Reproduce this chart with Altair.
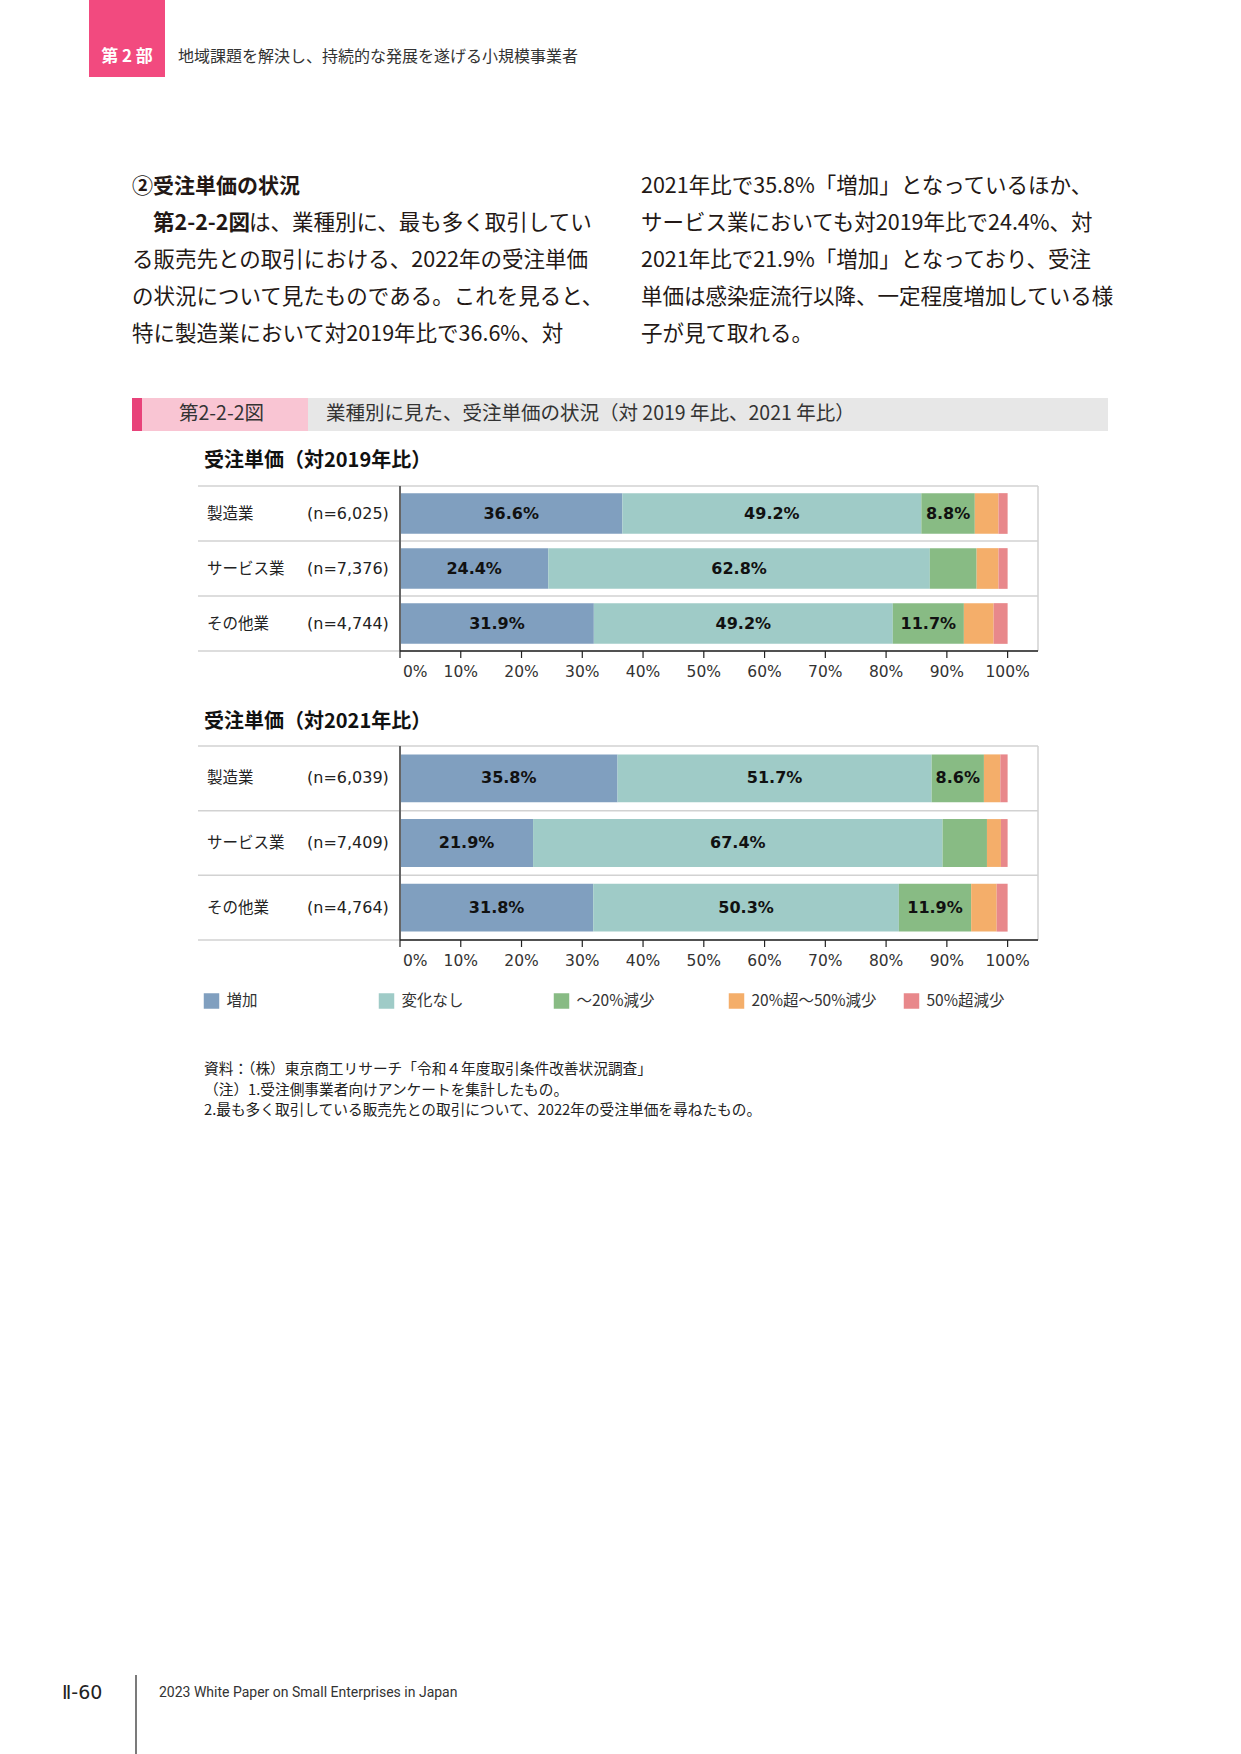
import altair as alt
import pandas as pd

JP = "Noto Sans CJK JP"
LAT = "DejaVu Sans"
INK = "#231815"

# ---- data -------------------------------------------------------------
industries = ["製造業", "サービス業", "その他業"]
n_2019 = ["(n=6,025)", "(n=7,376)", "(n=4,744)"]
n_2021 = ["(n=6,039)", "(n=7,409)", "(n=4,764)"]
categories = ["増加", "変化なし", "～20%減少", "20%超～50%減少", "50%超減少"]
palette = ["#809fbf", "#9fcbc7", "#88bb84", "#f4ae6a", "#e8888b"]

# shares (%) by industry, vs 2019
increase_2019 = [36.6, 24.4, 31.9]
nochange_2019 = [49.2, 62.8, 49.2]
down20_2019 = [8.8, 7.7, 11.7]
down50_2019 = [3.9, 3.6, 4.9]
over50_2019 = [1.5, 1.5, 2.3]

# shares (%) by industry, vs 2021
increase_2021 = [35.8, 21.9, 31.8]
nochange_2021 = [51.7, 67.4, 50.3]
down20_2021 = [8.6, 7.3, 11.9]
down50_2021 = [2.7, 2.3, 4.2]
over50_2021 = [1.2, 1.1, 1.8]

ticks = [0, 10, 20, 30, 40, 50, 60, 70, 80, 90, 100]


def shares_table(cols, n_labels):
    rows = []
    for i, ind in enumerate(industries):
        start = 0.0
        for cat, col in zip(categories, cols):
            v = col[i]
            rows.append(dict(industry=ind, n=n_labels[i], category=cat, value=v,
                             start=start, end=start + v, mid=start + v / 2,
                             label=f"{v:.1f}%"))
            start += v
    return pd.DataFrame(rows)


t2019 = shares_table([increase_2019, nochange_2019, down20_2019, down50_2019, over50_2019], n_2019)
t2021 = shares_table([increase_2021, nochange_2021, down20_2021, down50_2021, over50_2021], n_2021)

XS = alt.Scale(domain=[0, 105], range=[400, 1038], nice=False, zero=False)
COLOR = alt.Scale(domain=categories, range=palette)

ONE = pd.DataFrame({"k": [0]})


def text_at(s, x, y, size, weight="normal", color=INK, font=JP, align="left"):
    return alt.Chart(pd.DataFrame({"s": [s]})).mark_text(
        align=align, baseline="middle", fontSize=size, fontWeight=weight,
        color=color, font=font
    ).encode(x=alt.value(x), y=alt.value(y), text="s:N")


def box(x0, x1, y0, y1, color):
    return alt.Chart(ONE).mark_rect(color=color).encode(
        x=alt.value(x0), x2=alt.value(x1), y=alt.value(y0), y2=alt.value(y1))


def panel(table, n_labels, top, bottom):
    band = alt.Scale(domain=industries, range=[top, bottom],
                     paddingInner=0.26, paddingOuter=0.13)
    rows_y = alt.Scale(domain=[0, 3], range=[top, bottom], nice=False, zero=False)
    y = alt.Y("industry:N", scale=band, axis=None)
    base = alt.Chart(table)

    seps = alt.Chart(pd.DataFrame({"b": [0, 1, 2, 3]})).mark_rule(
        color="#d2d2d2", strokeWidth=1.5
    ).encode(y=alt.Y("b:Q", scale=rows_y, axis=None),
             x=alt.value(198), x2=alt.value(1038))

    right = alt.Chart(pd.DataFrame({"v": [105]})).mark_rule(
        color="#d2d2d2", strokeWidth=1.5
    ).encode(x=alt.X("v:Q", scale=XS, axis=None), y=alt.value(top), y2=alt.value(bottom))

    bars = base.mark_bar().encode(
        x=alt.X("start:Q", scale=XS, axis=None), x2="end:Q", y=y,
        color=alt.Color("category:N", scale=COLOR, legend=None))

    vals = base.transform_filter("datum.value >= 8").mark_text(
        fontSize=16, fontWeight="bold", font=LAT, color="#111111", baseline="middle"
    ).encode(x=alt.X("mid:Q", scale=XS, axis=None), y=y, text="label:N")

    names_df = pd.DataFrame({"industry": industries, "n": n_labels})
    names = alt.Chart(names_df).mark_text(
        align="left", baseline="middle", fontSize=15.5, font=JP, color="#222222"
    ).encode(x=alt.value(207), y=y, text="industry:N")
    counts = alt.Chart(names_df).mark_text(
        align="left", baseline="middle", fontSize=16, font=LAT, color="#222222"
    ).encode(x=alt.value(307), y=y, text="n:N")

    left_axis = alt.Chart(pd.DataFrame({"v": [0]})).mark_rule(
        color="#666666", strokeWidth=2
    ).encode(x=alt.X("v:Q", scale=XS, axis=None), y=alt.value(top), y2=alt.value(bottom))

    base_axis = alt.Chart(pd.DataFrame({"a": [0], "b": [105]})).mark_rule(
        color="#222222", strokeWidth=1.5
    ).encode(x=alt.X("a:Q", scale=XS, axis=None), x2="b:Q", y=alt.value(bottom))

    tick_df = pd.DataFrame({"t": ticks})
    tick_marks = alt.Chart(tick_df).mark_rule(color="#222222", strokeWidth=1.2).encode(
        x=alt.X("t:Q", scale=XS, axis=None), y=alt.value(bottom), y2=alt.value(bottom + 7))

    tick_first = alt.Chart(tick_df).transform_filter("datum.t == 0").transform_calculate(
        lab="datum.t + '%'"
    ).mark_text(align="left", dx=3, baseline="middle", fontSize=15.5, font=LAT, color="#333333").encode(
        x=alt.X("t:Q", scale=XS, axis=None), y=alt.value(bottom + 21), text="lab:N")
    tick_rest = alt.Chart(tick_df).transform_filter("datum.t > 0").transform_calculate(
        lab="datum.t + '%'"
    ).mark_text(align="center", baseline="middle", fontSize=15.5, font=LAT, color="#333333").encode(
        x=alt.X("t:Q", scale=XS, axis=None), y=alt.value(bottom + 21), text="lab:N")

    return [seps, right, bars, vals, names, counts, left_axis, base_axis,
            tick_marks, tick_first, tick_rest]


layers = []

# ---- running header ---------------------------------------------------
layers.append(box(89, 165, 0, 77, "#f24a7f"))
layers.append(text_at("第 2 部", 127, 57, 17, weight="bold", color="#ffffff", align="center"))
layers.append(text_at("地域課題を解決し、持続的な発展を遂げる小規模事業者", 178, 57, 16, color="#333333"))

# ---- body text ----------------------------------------------------------
LH = 37
BODY = 21.5
layers.append(text_at("②受注単価の状況", 132, 187, 21, weight="bold"))
layers.append(text_at("第2-2-2図", 153, 187 + LH, BODY, weight="bold"))
layers.append(text_at("は、業種別に、最も多く取引してい", 249, 187 + LH, BODY))
left_lines = [
    "る販売先との取引における、2022年の受注単価",
    "の状況について見たものである。これを見ると、",
    "特に製造業において対2019年比で36.6%、対",
]
for i, s in enumerate(left_lines):
    layers.append(text_at(s, 132, 187 + LH * (i + 2), BODY))
right_lines = [
    "2021年比で35.8%「増加」となっているほか、",
    "サービス業においても対2019年比で24.4%、対",
    "2021年比で21.9%「増加」となっており、受注",
    "単価は感染症流行以降、一定程度増加している様",
    "子が見て取れる。",
]
for i, s in enumerate(right_lines):
    layers.append(text_at(s, 641, 187 + LH * i, BODY))

# ---- figure title bar ---------------------------------------------------
layers.append(box(142, 1108, 398, 431, "#e7e7e7"))
layers.append(box(142, 308, 398, 431, "#f9c5d3"))
layers.append(box(132, 142, 398, 431, "#e8437a"))
layers.append(text_at("第2-2-2図", 179, 414, 19.5, color="#333333"))
layers.append(text_at("業種別に見た、受注単価の状況（対 2019 年比、2021 年比）", 326, 414, 19.5, color="#333333"))

# ---- panels ---------------------------------------------------------------
layers.append(text_at("受注単価（対2019年比）", 204, 461, 20, weight="bold", color="#111111"))
layers += panel(t2019, n_2019, 486, 651)
layers.append(text_at("受注単価（対2021年比）", 204, 722, 20, weight="bold", color="#111111"))
layers += panel(t2021, n_2021, 746, 940)

# ---- legend -----------------------------------------------------------------
LEG = alt.Scale(type="point", domain=categories, range=[211.5, 911.5], padding=0)
leg_df = pd.DataFrame({"category": categories})
layers.append(alt.Chart(leg_df).mark_square(size=240, opacity=1).encode(
    x=alt.X("category:N", scale=LEG, axis=None), y=alt.value(1001),
    color=alt.Color("category:N", scale=COLOR, legend=None)))
layers.append(alt.Chart(leg_df).mark_text(
    align="left", dx=15, baseline="middle", fontSize=15.5, font=JP, color="#333333"
).encode(x=alt.X("category:N", scale=LEG, axis=None), y=alt.value(1001), text="category:N"))

# ---- source & notes ---------------------------------------------------------
notes = [
    "資料：（株）東京商工リサーチ「令和４年度取引条件改善状況調査」",
    "（注）1.受注側事業者向けアンケートを集計したもの。",
    "2.最も多く取引している販売先との取引について、2022年の受注単価を尋ねたもの。",
]
for i, s in enumerate(notes):
    layers.append(text_at(s, 204, 1070 + 20.5 * i, 14.7, color="#222222"))

# ---- footer -------------------------------------------------------------------
layers.append(text_at("Ⅱ-60", 62, 1693, 19, font="DejaVu Sans", color="#222222"))
layers.append(alt.Chart(ONE).mark_rule(color="#222222", strokeWidth=1.2).encode(
    x=alt.value(136), y=alt.value(1675), y2=alt.value(1754)))
layers.append(text_at("2023 White Paper on Small Enterprises in Japan", 159, 1693, 14,
                      font="Roboto", color="#333333"))

chart = alt.layer(*layers).resolve_scale(
    x="independent", y="independent"
).properties(
    width=1241, height=1754, padding=0,
    autosize=alt.AutoSizeParams(type="none"),
    background="#ffffff",
).configure_view(stroke=None)

chart.save("out.html", embed_options={"renderer": "svg", "actions": False})
